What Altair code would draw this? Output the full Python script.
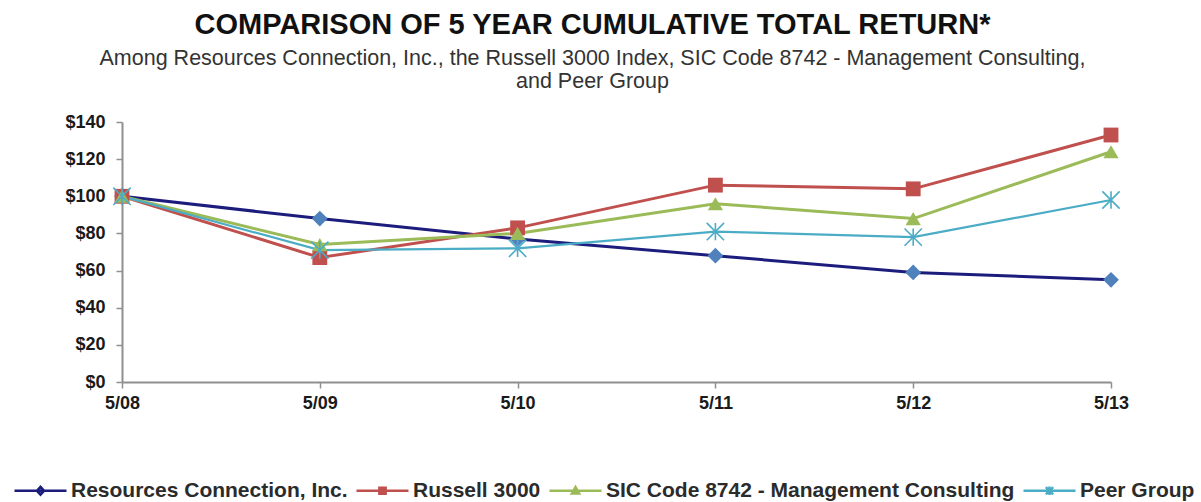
import altair as alt
import pandas as pd

years = ["5/08", "5/09", "5/10", "5/11", "5/12", "5/13"]
series_names = ["Resources Connection, Inc.", "Russell 3000",
                "SIC Code 8742 - Management Consulting", "Peer Group"]
resources = [100, 88, 77, 68, 59, 55]
russell = [100, 67, 83, 106, 104, 133]
sic = [100, 74, 80, 96, 88, 124]
peer = [100, 71, 72, 81, 78, 98]
values = [resources, russell, sic, peer]

line_colors = ["#1c1c7c", "#c0504d", "#9bbb59", "#4bacc6"]
marker_colors = ["#4f81bd", "#c0504d", "#9bbb59", "#4bacc6"]
line_widths = [3, 3, 3, 2.2]
STAR = "M-1,-1L1,1M-1,1L1,-1M0,-1L0,1"
marker_shapes = ["diamond", "square", "triangle-up", STAR]
marker_sizes = [250, 220, 230, 300]
marker_filled = [True, True, True, False]

legend_shapes = [
    "M-1,0H1M-0.14,0L0,-0.15L0.14,0L0,0.15Z",
    "M-1,0H1M-0.12,-0.12H0.12V0.12H-0.12Z",
    "M-1,0H1M-0.14,0.11L0,-0.14L0.14,0.11Z",
    "M-1,0H1M-0.14,-0.14L0.14,0.14M-0.14,0.14L0.14,-0.14M0,-0.16L0,0.16",
]

rows = []
for name, vals in zip(series_names, values):
    for yr, v in zip(years, vals):
        rows.append({"year": yr, "series": name, "value": v})
df = pd.DataFrame(rows)

FONT = "Liberation Sans"

x_enc = alt.X("year:O", sort=years, scale=alt.Scale(type="point", padding=0),
              axis=alt.Axis(title=None, labelAngle=0, labelFont=FONT, labelFontSize=18,
                            labelFontWeight="bold", labelColor="#1a1a1a",
                            domainColor="#8f8f8f", domainWidth=2, tickColor="#8f8f8f",
                            tickWidth=1.5, tickSize=6, labelPadding=6))
y_enc = alt.Y("value:Q", scale=alt.Scale(domain=[0, 140], nice=False),
              axis=alt.Axis(title=None, values=[0, 20, 40, 60, 80, 100, 120, 140],
                            format="$,.0f", labelFont=FONT, labelFontSize=18,
                            labelFontWeight="bold", labelColor="#1a1a1a",
                            domainColor="#8f8f8f", domainWidth=2, tickColor="#8f8f8f",
                            tickWidth=1.5, tickSize=6, labelPadding=11, grid=False))

base = alt.Chart(df)
layers = []
for i, name in enumerate(series_names):
    sub = base.transform_filter(alt.datum.series == name)
    layers.append(sub.mark_line(color=line_colors[i], strokeWidth=line_widths[i]).encode(x=x_enc, y=y_enc))
for i, name in enumerate(series_names):
    sub = base.transform_filter(alt.datum.series == name)
    if marker_filled[i]:
        m = sub.mark_point(shape=marker_shapes[i], filled=True, color=marker_colors[i],
                           size=marker_sizes[i], opacity=1)
    else:
        m = sub.mark_point(shape=marker_shapes[i], filled=False, color=marker_colors[i],
                           size=marker_sizes[i], strokeWidth=1.6, opacity=1)
    layers.append(m.encode(x=x_enc, y=y_enc))

legend_layer = base.transform_filter("false").mark_point(filled=True, opacity=1).encode(
    x=x_enc, y=y_enc,
    fill=alt.Fill("series:N", scale=alt.Scale(domain=series_names, range=marker_colors),
                  legend=alt.Legend(title=None)),
    stroke=alt.Stroke("series:N", scale=alt.Scale(domain=series_names, range=line_colors),
                      legend=alt.Legend(title=None)),
    shape=alt.Shape("series:N", scale=alt.Scale(domain=series_names, range=legend_shapes),
                    legend=alt.Legend(title=None)),
)
layers.append(legend_layer)

chart = alt.layer(*layers).properties(
    width=989, height=260,
    padding={"left": 122, "top": 122, "right": 90, "bottom": 120},
    autosize=alt.AutoSizeParams(type="none"),
    title=alt.TitleParams(
        text="COMPARISON OF 5 YEAR CUMULATIVE TOTAL RETURN*",
        subtitle=["Among Resources Connection, Inc., the Russell 3000 Index, SIC Code 8742 - Management Consulting,",
                  "and Peer Group"],
        font=FONT, fontSize=29, fontWeight="bold", color="#111111",
        subtitleFont=FONT, subtitleFontSize=21.5, subtitleColor="#333333",
        subtitlePadding=8, subtitleLineHeight=23,
        anchor="middle", dx=-24, offset=21,
    ),
).configure_view(stroke=None).configure_legend(
    orient="none", direction="horizontal", legendX=-109, legendY=341,
    labelFont=FONT, labelFontSize=21, labelFontWeight="bold", labelColor="#2b2b2b",
    symbolSize=2704, symbolStrokeWidth=2.5, labelOffset=3, columnPadding=3,
    labelLimit=600,
)

chart.save("out.html", embed_options={"renderer": "svg", "actions": False})
